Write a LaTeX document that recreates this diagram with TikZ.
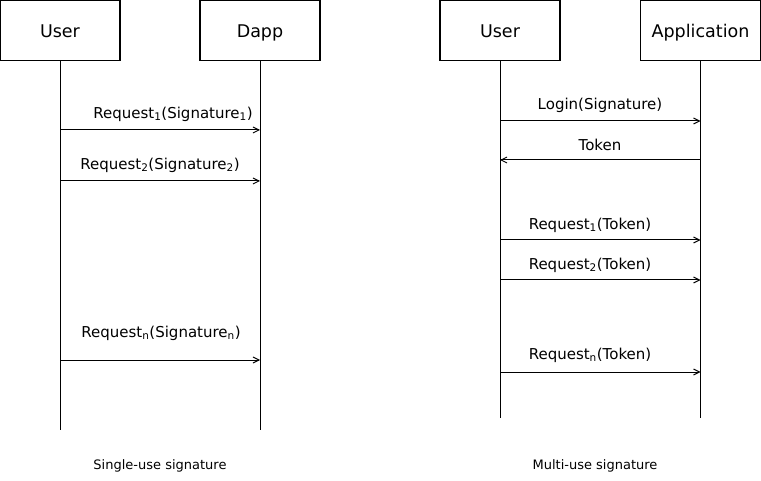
\documentclass[tikz,border=0pt]{standalone}
\usepackage{fontspec}
\setmainfont{DejaVu Sans}
\usetikzlibrary{arrows.meta}
\begin{document}
\begin{tikzpicture}[x=1pt,y=-1pt,
  actor/.style={draw=black,line width=1.2pt,minimum width=120pt,minimum height=60pt,inner sep=0pt,text height=16pt,text depth=1pt,font=\fontsize{17.5}{20}\selectfont},
  life/.style={line width=0.9pt},
  msg/.style={line width=1pt,-{Straight Barb[length=6pt,width=6pt,line width=0.9pt]}},
  lbl/.style={font=\fontsize{15}{18}\selectfont,inner sep=0pt},
  captext/.style={font=\fontsize{13}{16}\selectfont,inner sep=0pt}]
\useasboundingbox (0,0) rectangle (761,481);
% actors
\node[actor] (u1) at (60,30.5) {User};
\node[actor] (d1) at (260,30.5) {Dapp};
\node[actor] (u2) at (500,30.5) {User};
\node[actor] (a2) at (700.5,30.5) {Application};
% lifeline ends
\coordinate (u1e) at (60,430);
\coordinate (d1e) at (260,430);
\coordinate (u2e) at (500,418);
\coordinate (a2e) at (700.5,418);
\draw[life] (u1.south) -- (u1e);
\draw[life] (d1.south) -- (d1e);
\draw[life] (u2.south) -- (u2e);
\draw[life] (a2.south) -- (a2e);
% left messages
\coordinate (l1a) at (60,130); \coordinate (l1b) at (260,130);
\coordinate (l2a) at (60,181); \coordinate (l2b) at (260,181);
\coordinate (l3a) at (60,360); \coordinate (l3b) at (260,360);
\draw[msg] (l1a) -- (l1b);
\draw[msg] (l2a) -- (l2b);
\draw[msg] (l3a) -- (l3b);
\node[lbl] (t1) at (173,114) {Request\textsubscript{1}(Signature\textsubscript{1})};
\node[lbl] (t2) at (160,165) {Request\textsubscript{2}(Signature\textsubscript{2})};
\node[lbl] (t3) at (161,333) {Request\textsubscript{n}(Signature\textsubscript{n})};
% right messages
\coordinate (r1a) at (500,121); \coordinate (r1b) at (700.5,121);
\coordinate (r2a) at (500,160); \coordinate (r2b) at (700.5,160);
\coordinate (r3a) at (500,240); \coordinate (r3b) at (700.5,240);
\coordinate (r4a) at (500,280); \coordinate (r4b) at (700.5,280);
\coordinate (r5a) at (500,372); \coordinate (r5b) at (700.5,372);
\draw[msg] (r1a) -- (r1b);
\draw[msg] (r2b) -- (r2a);
\draw[msg] (r3a) -- (r3b);
\draw[msg] (r4a) -- (r4b);
\draw[msg] (r5a) -- (r5b);
\node[lbl] (s1) at (600,105) {Login(Signature)};
\node[lbl] (s2) at (600,145) {Token};
\node[lbl] (s3) at (590,225) {Request\textsubscript{1}(Token)};
\node[lbl] (s4) at (590,265) {Request\textsubscript{2}(Token)};
\node[lbl] (s5) at (590,355) {Request\textsubscript{n}(Token)};
% captions
\node[captext] (c1) at (160,466) {Single-use signature};
\node[captext] (c2) at (595,466) {Multi-use signature};
\end{tikzpicture}
\end{document}
